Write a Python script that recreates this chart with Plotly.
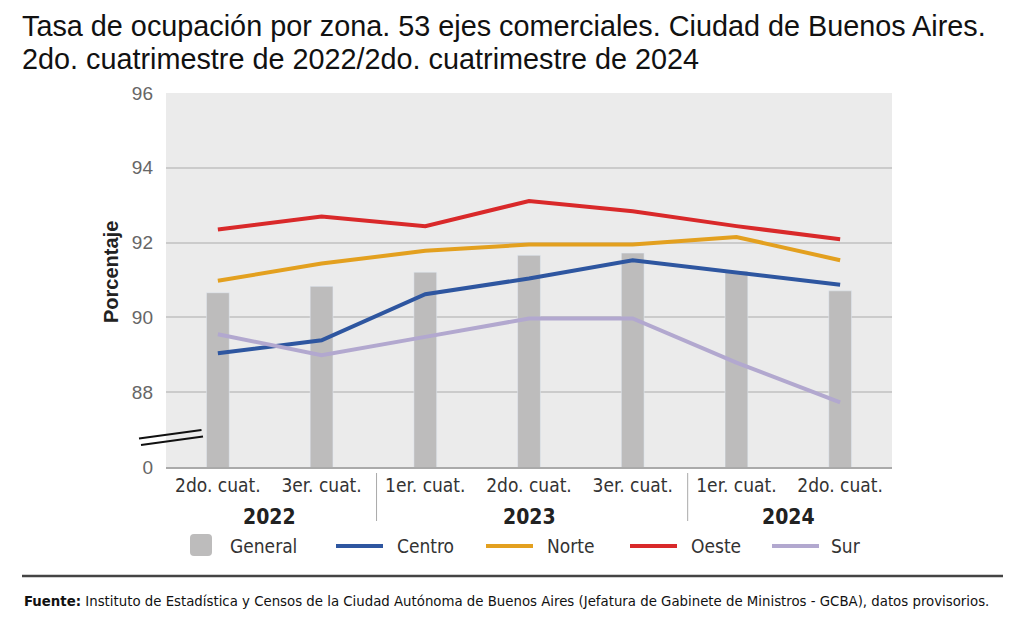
import plotly.graph_objects as go

categories = ["2do. cuat.", "3er. cuat.", "1er. cuat.", "2do. cuat.", "3er. cuat.", "1er. cuat.", "2do. cuat."]
years = ["2022", "2023", "2024"]
general = [90.66, 90.83, 91.21, 91.66, 91.72, 91.24, 90.71]
centro = [89.04, 89.39, 90.62, 91.04, 91.53, 91.20, 90.87]
norte = [90.98, 91.44, 91.78, 91.95, 91.95, 92.15, 91.53]
oeste = [92.35, 92.70, 92.44, 93.11, 92.84, 92.44, 92.09]
sur = [89.55, 88.99, 89.48, 89.97, 89.97, 88.79, 87.73]
y_tickvals = [86, 88, 90, 92, 94, 96]
y_ticktext = ["0", "88", "90", "92", "94", "96"]
title_lines = ["Tasa de ocupación por zona. 53 ejes comerciales. Ciudad de Buenos Aires.",
               "2do. cuatrimestre de 2022/2do. cuatrimestre de 2024"]

NARROW = "Liberation Sans Narrow, Arial Narrow, DejaVu Sans Condensed, sans-serif"
REG = "Liberation Sans, Arial, sans-serif"

colors = {
    "General": "#bdbcbc",
    "Centro": "#2e56a0",
    "Norte": "#e3a01f",
    "Oeste": "#d9292a",
    "Sur": "#b2a8cf",
}

x = list(range(len(categories)))

fig = go.Figure()
fig.add_trace(go.Bar(x=x, y=general, name="General", marker_color=colors["General"],
                     width=0.22, showlegend=False))
for name, vals in [("Centro", centro), ("Norte", norte), ("Oeste", oeste), ("Sur", sur)]:
    fig.add_trace(go.Scatter(x=x, y=vals, name=name, mode="lines",
                             line=dict(color=colors[name], width=4), showlegend=False))

W, H = 1030, 628
L, R, T, B = 166, 138, 93, 161
pw = W - L - R
ph = H - T - B

def px(xp):
    return (xp - L) / pw

def py(yp):
    return (H - B - yp) / ph

shapes = []
annotations = []

# title lines
for line, yc in zip(title_lines, [26, 59]):
    annotations.append(dict(text=line, xref="paper", yref="paper", x=px(20), y=py(yc),
                            xanchor="left", yanchor="middle", showarrow=False,
                            font=dict(family=REG, size=28.8, color="#111111")))

# y axis title
annotations.append(dict(text="<b>Porcentaje</b>", xref="paper", yref="paper", x=px(111), y=py(272),
                        xanchor="center", yanchor="middle", textangle=-90, showarrow=False,
                        font=dict(family=REG, size=20, color="#222222")))

# axis break marks
for (x0, y0, x1, y1) in [(139, 438.5, 201.5, 430), (141, 445, 203, 436.5)]:
    shapes.append(dict(type="line", xref="paper", yref="paper",
                       x0=px(x0), y0=py(y0), x1=px(x1), y1=py(y1),
                       line=dict(color="#111111", width=2)))

# year separators
for xb in [1.5, 4.5]:
    shapes.append(dict(type="line", xref="x", yref="paper", x0=xb + 0.03, x1=xb + 0.03,
                       y0=py(473), y1=py(521), line=dict(color="#aaaaaa", width=1)))

# year labels
for label, xc in zip(years, [0.5, 3, 5.5]):
    annotations.append(dict(text="<b>%s</b>" % label, xref="x", yref="paper", x=xc, y=py(517),
                            xanchor="center", yanchor="middle", showarrow=False,
                            font=dict(family=NARROW, size=21, color="#222222")))

# manual legend
leg_y = py(546)
legend_items = [("General", 190, 228), ("Centro", 336, 395), ("Norte", 486, 545),
                ("Oeste", 630, 689), ("Sur", 772, 829)]

def rounded_rect(x0, y0, x1, y1, r):
    pts = [
        ("M", px(x0 + r), py(y0)),
        ("L", px(x1 - r), py(y0)),
        ("Q", px(x1), py(y0), px(x1), py(y0 + r)),
        ("L", px(x1), py(y1 - r)),
        ("Q", px(x1), py(y1), px(x1 - r), py(y1)),
        ("L", px(x0 + r), py(y1)),
        ("Q", px(x0), py(y1), px(x0), py(y1 - r)),
        ("L", px(x0), py(y0 + r)),
        ("Q", px(x0), py(y0), px(x0 + r), py(y0)),
    ]
    parts = []
    for p in pts:
        cmd = p[0]
        coords = " ".join("%.5f" % c for c in p[1:])
        parts.append(cmd + " " + coords.replace(" ", ",", 1) if cmd != "Q" else
                     "Q %.5f,%.5f %.5f,%.5f" % p[1:])
    return " ".join(parts) + " Z"

for name, x0, xt in legend_items:
    if name == "General":
        shapes.append(dict(type="path", xref="paper", yref="paper",
                           path=rounded_rect(x0, 534, x0 + 22, 556, 4),
                           fillcolor=colors[name], line=dict(width=0)))
    else:
        shapes.append(dict(type="line", xref="paper", yref="paper",
                           x0=px(x0), x1=px(x0 + 47), y0=leg_y, y1=leg_y,
                           line=dict(color=colors[name], width=4)))
    annotations.append(dict(text=name, xref="paper", yref="paper", x=px(xt), y=leg_y,
                            xanchor="left", yanchor="middle", showarrow=False,
                            font=dict(family=NARROW, size=19, color="#333333")))

# footer rule and source
shapes.append(dict(type="line", xref="paper", yref="paper", x0=px(22), x1=px(1003),
                   y0=py(576), y1=py(576), line=dict(color="#444444", width=2.5)))
annotations.append(dict(
    text="<b>Fuente:</b> Instituto de Estadística y Censos de la Ciudad Autónoma de Buenos Aires "
         "(Jefatura de Gabinete de Ministros - GCBA), datos provisorios.",
    xref="paper", yref="paper", x=px(22), y=py(600), xanchor="left", yanchor="middle",
    showarrow=False, font=dict(family=NARROW, size=14.8, color="#111111")))

fig.update_layout(
    width=W, height=H,
    margin=dict(l=L, r=R, t=T, b=B),
    paper_bgcolor="white",
    plot_bgcolor="#ebebeb",
    shapes=shapes,
    annotations=annotations,
    showlegend=False,
)
fig.update_xaxes(
    tickmode="array", tickvals=x, ticktext=categories,
    range=[-0.5, len(categories) - 0.5],
    showgrid=False, zeroline=False,
    showline=True, linecolor="#aaaaaa", linewidth=1.5,
    tickfont=dict(family=NARROW, size=19, color="#333333"),
    ticks="", fixedrange=True,
)
fig.update_yaxes(
    range=[86, 96], tickmode="array", tickvals=y_tickvals, ticktext=y_ticktext,
    showgrid=True, gridcolor="#cbcbcb", gridwidth=1.5, zeroline=False, showline=False,
    tickfont=dict(family=REG, size=19, color="#666666"),
    ticklabelstandoff=12,
    fixedrange=True,
)

fig.write_html("out.html")
